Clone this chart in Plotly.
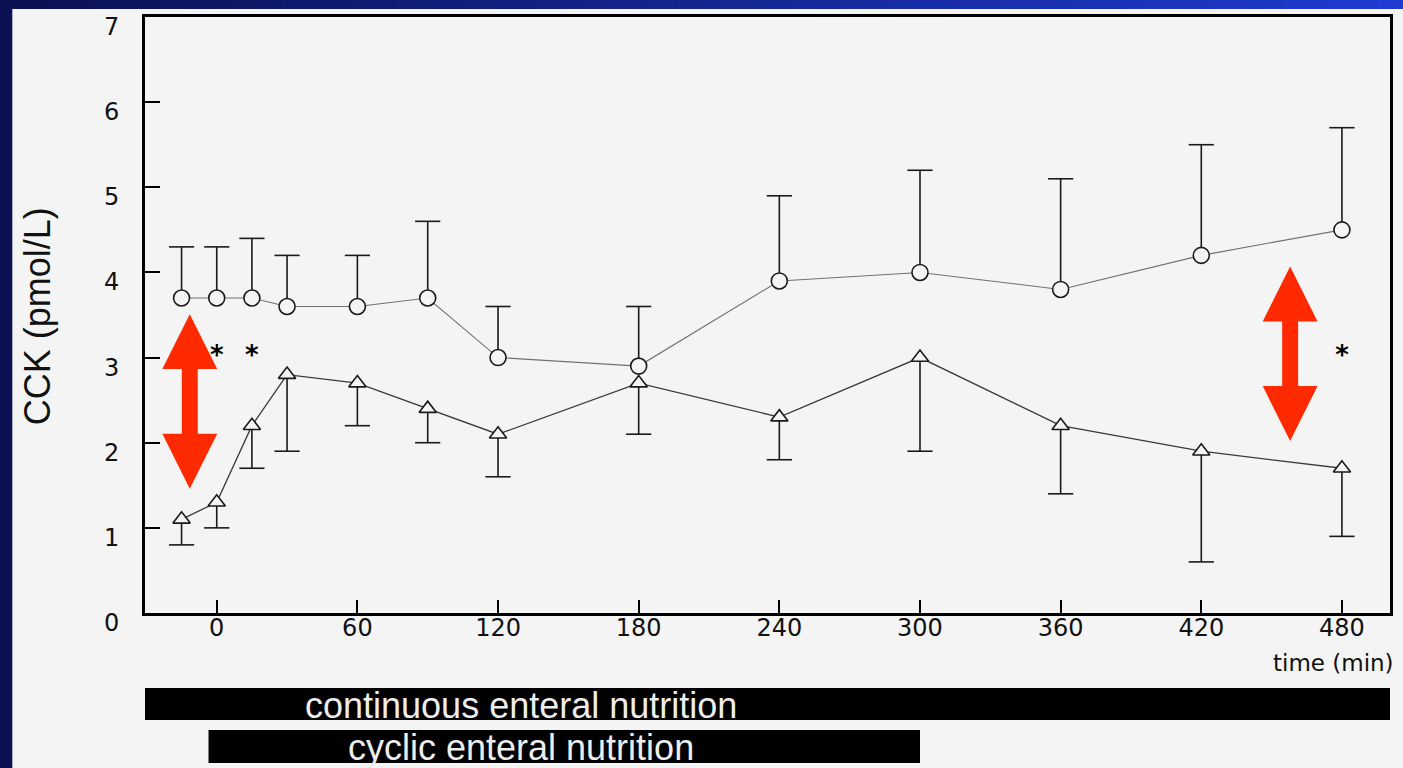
import plotly.graph_objects as go

# ---------------- data ----------------
time_min = [-15, 0, 15, 30, 60, 90, 120, 180, 240, 300, 360, 420, 480]
circle_mean = [3.7, 3.7, 3.7, 3.6, 3.6, 3.7, 3.0, 2.9, 3.9, 4.0, 3.8, 4.2, 4.5]
circle_upper = [4.3, 4.3, 4.4, 4.2, 4.2, 4.6, 3.6, 3.6, 4.9, 5.2, 5.1, 5.5, 5.7]
tri_mean = [1.1, 1.3, 2.2, 2.8, 2.7, 2.4, 2.1, 2.7, 2.3, 3.0, 2.2, 1.9, 1.7]
tri_lower = [0.8, 1.0, 1.7, 1.9, 2.2, 2.0, 1.6, 2.1, 1.8, 1.9, 1.4, 0.6, 0.9]
sig_time = [0, 15, 480]
sig_level = [3.0, 3.0, 3.0]
x_ticks = [0, 60, 120, 180, 240, 300, 360, 420, 480]
y_ticks = [0, 1, 2, 3, 4, 5, 6, 7]
bar_labels = ["continuous enteral nutrition", "cyclic enteral nutrition"]
bar_start = [-30.6, -3.5]
bar_end = [500.5, 300]

# ---------------- layout geometry ----------------
W, H = 1403, 768
ML, MR, MT, MB = 145, 10, 17, 155
PW, PH = W - ML - MR, H - MT - MB
X_RANGE = [-30.6, 500.5]
Y_RANGE = [0, 7]
FONT = "Liberation Sans, Arial, Helvetica, sans-serif"
SCAN_FONT = "DejaVu Sans, Verdana, sans-serif"
BG = "#F4F4F4"
INK = "#111111"


def pxx(px):
    return (px - ML) / PW


def pxy(py):
    return (H - MB - py) / PH


fig = go.Figure()

# error stems (circles: upward, triangles: downward)
fig.add_trace(go.Scatter(
    x=time_min, y=circle_mean, mode="none", showlegend=False, hoverinfo="skip",
    error_y=dict(type="data", symmetric=False,
                 array=[u - m for u, m in zip(circle_upper, circle_mean)],
                 arrayminus=[0] * len(time_min), width=0, thickness=1.6, color="#1a1a1a"),
))
fig.add_trace(go.Scatter(
    x=time_min, y=tri_mean, mode="none", showlegend=False, hoverinfo="skip",
    error_y=dict(type="data", symmetric=False,
                 array=[0] * len(time_min),
                 arrayminus=[m - l for m, l in zip(tri_mean, tri_lower)],
                 width=0, thickness=1.6, color="#1a1a1a"),
))
# caps
fig.add_trace(go.Scatter(
    x=time_min + time_min, y=circle_upper + tri_lower, mode="markers",
    showlegend=False, hoverinfo="skip",
    marker=dict(symbol="line-ew", size=18, line=dict(width=1.6, color="#1a1a1a")),
))

# series lines + markers
fig.add_trace(go.Scatter(
    x=time_min, y=circle_mean, mode="lines+markers", showlegend=False,
    line=dict(color="#707070", width=1.1),
    marker=dict(symbol="circle", size=16, color=BG, line=dict(width=1.6, color="#1a1a1a")),
))
fig.add_trace(go.Scatter(
    x=time_min, y=tri_mean, mode="lines+markers", showlegend=False,
    line=dict(color="#3a3a3a", width=1.3),
    marker=dict(symbol="triangle-up", size=15, color=BG, line=dict(width=1.6, color="#1a1a1a")),
))

# significance asterisks
fig.add_trace(go.Scatter(
    x=sig_time, y=sig_level, mode="text", text=["<b>*</b>"] * len(sig_time),
    textposition="middle center", showlegend=False, hoverinfo="skip",
    textfont=dict(family=SCAN_FONT, size=26, color="#000000"),
))

shapes = []

# page frame: dark blue left stripe and gradient top stripe
shapes.append(dict(type="rect", xref="paper", yref="paper",
                   x0=pxx(-2), x1=pxx(12), y0=pxy(H + 2), y1=pxy(-2),
                   fillcolor="#0B1152", line=dict(width=0), layer="above"))
N = 60
c0, c1 = (11, 17, 82), (31, 59, 208)
for i in range(N):
    t = i / (N - 1)
    col = "rgb(%d,%d,%d)" % tuple(round(a + (b - a) * t) for a, b in zip(c0, c1))
    shapes.append(dict(type="rect", xref="paper", yref="paper",
                       x0=pxx(W * i / N), x1=pxx(W * (i + 1) / N + 1 + (3 if i == N - 1 else 0)),
                       y0=pxy(9), y1=pxy(-2),
                       fillcolor=col, line=dict(width=0), layer="above"))

# nutrition bars
bar_rows = [(688, 720), (730, 763)]
for (s, e), (ytop, ybot) in zip(zip(bar_start, bar_end), bar_rows):
    shapes.append(dict(type="rect", xref="x", yref="paper", x0=s, x1=e,
                       y0=pxy(ybot), y1=pxy(ytop), fillcolor="#000000",
                       line=dict(width=0), layer="above"))


# red double arrows (data coordinates)
def double_arrow(xc, y_top, y_bot, head_len, head_hw, shaft_hw):
    a = y_top - head_len
    b = y_bot + head_len
    pts = [(xc, y_top), (xc + head_hw, a), (xc + shaft_hw, a), (xc + shaft_hw, b),
           (xc + head_hw, b), (xc, y_bot), (xc - head_hw, b), (xc - shaft_hw, b),
           (xc - shaft_hw, a), (xc - head_hw, a)]
    return "M " + " L ".join("%.3f,%.3f" % p for p in pts) + " Z"


RED = "#FF2A00"
for xc, yt, yb in [(-11.5, 3.51, 1.46), (457.9, 4.07, 2.02)]:
    shapes.append(dict(type="path", xref="x", yref="y",
                       path=double_arrow(xc, yt, yb, 0.645, 11.7, 3.4),
                       fillcolor=RED, line=dict(width=0), layer="above"))

annotations = [
    dict(text="CCK (pmol/L)", xref="paper", yref="paper", x=pxx(37), y=pxy(316),
         textangle=-90, showarrow=False, xanchor="center", yanchor="middle",
         font=dict(family=FONT, size=36, color=INK)),
    dict(text="time (min)", xref="paper", yref="paper", x=pxx(1399), y=pxy(663),
         showarrow=False, xanchor="right", yanchor="middle",
         font=dict(family=SCAN_FONT, size=23, color=INK)),
]
# y tick labels (drawn slightly below their ticks, as in the scan)
for v in y_ticks:
    annotations.append(dict(text=str(v), xref="paper", yref="y", x=pxx(121), y=v,
                            yshift=-10, showarrow=False, xanchor="right", yanchor="middle",
                            font=dict(family=SCAN_FONT, size=24, color=INK)))
for lab, row in zip(bar_labels, bar_rows):
    annotations.append(dict(text=lab, xref="x", yref="paper", x=130,
                            y=pxy((row[0] + row[1]) / 2 + 1), showarrow=False,
                            xanchor="center", yanchor="middle",
                            font=dict(family=FONT, size=36, color="#EDEDED")))

fig.update_layout(
    width=W, height=H,
    margin=dict(l=ML, r=MR, t=MT, b=MB, pad=0),
    paper_bgcolor=BG, plot_bgcolor=BG,
    shapes=shapes, annotations=annotations,
    font=dict(family=FONT, color=INK),
)
fig.update_xaxes(
    range=X_RANGE, tickmode="array", tickvals=x_ticks, ticktext=[str(v) for v in x_ticks],
    ticks="inside", ticklen=13, tickwidth=2, tickcolor="#000",
    showline=True, linewidth=2.5, linecolor="#000", mirror=True,
    showgrid=False, zeroline=False, tickfont=dict(family=SCAN_FONT, size=24, color=INK),
    ticklabelstandoff=-9,
)
fig.update_yaxes(
    range=Y_RANGE, tickmode="array", tickvals=y_ticks,
    ticks="inside", ticklen=15, tickwidth=2, tickcolor="#000",
    showline=True, linewidth=2.5, linecolor="#000", mirror=True,
    showgrid=False, zeroline=False, showticklabels=False,
)

fig.write_html(
    "out.html",
    config={"displayModeBar": False},
    post_script="document.body.style.margin='0';document.body.style.overflow='hidden';"
                "document.body.style.background='#F4F4F4';",
)
